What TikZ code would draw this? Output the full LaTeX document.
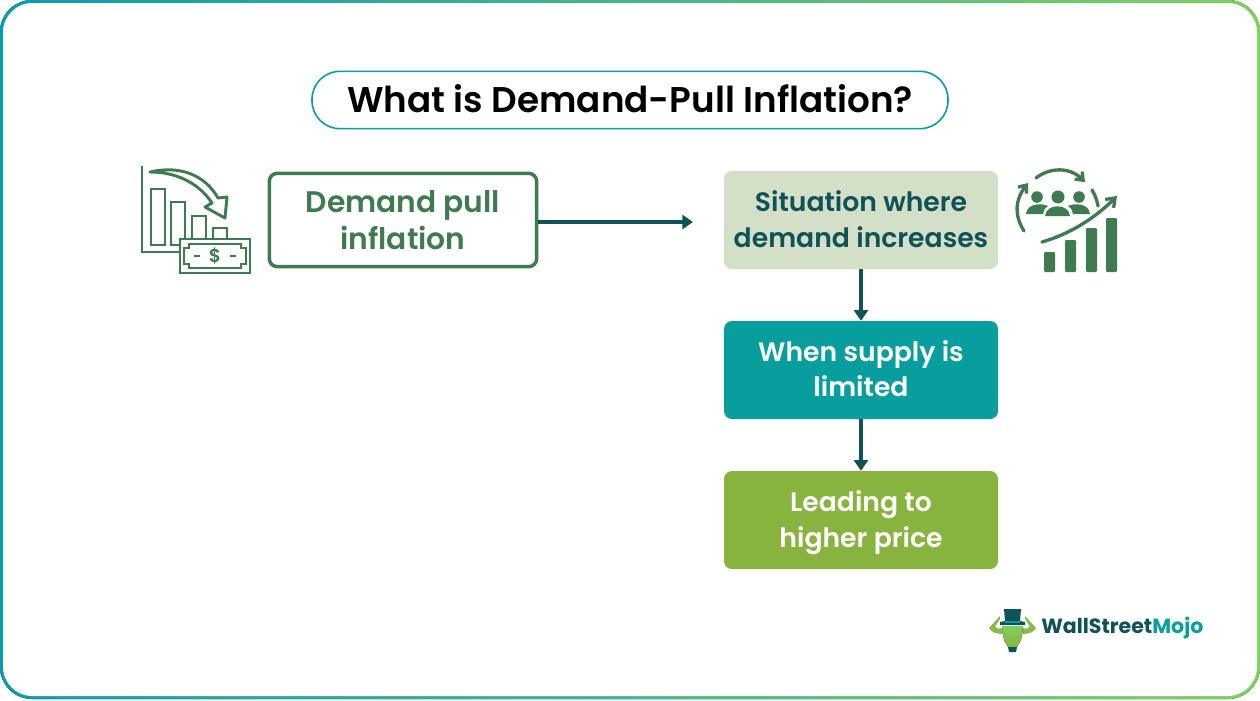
\documentclass[tikz,border=0pt]{standalone}
\usepackage{fontspec}
\setmainfont{Poppins}[BoldFont={Poppins SemiBold}]
\newfontfamily\logofont{Poppins}[BoldFont={Poppins Bold}]
\usetikzlibrary{
    arrows.meta,
    positioning
}
\definecolor{darkteal}{HTML}{0F5257}
\definecolor{iconGreen}{HTML}{3F7A50}
\definecolor{paleGreen}{HTML}{D3DFC6}
\definecolor{midTeal}{HTML}{089E9E}
\definecolor{leafGreen}{HTML}{88B33F}
\definecolor{frameTeal}{HTML}{0A9BB0}
\definecolor{frameGreen}{HTML}{7FD060}

\begin{document}
\begin{tikzpicture}[
    x=0.75pt, y=-0.75pt,
    flowbox/.style = {rectangle, rounded corners=6pt, inner sep=0pt,
                      minimum width=205.5pt, minimum height=73.5pt,
                      align=center, font=\fontsize{20}{27}\selectfont\bfseries},
    flowarrow/.style = {draw=darkteal, line width=2.3pt, -{Triangle[length=8pt,width=10.5pt]}},
    outline/.style = {draw=iconGreen, line width=2.2pt, fill=white, line join=miter},
    solidicon/.style = {fill=iconGreen, rounded corners=0.8pt},
    iconline/.style = {draw=iconGreen, line width=2.5pt, line cap=round}
]
    \useasboundingbox (0,0) rectangle (1260,700);

    % frame
    \fill[left color=frameTeal, right color=frameGreen, rounded corners=24pt] (0,0) rectangle (1260,699);
    \fill[white, rounded corners=22pt] (3,3) rectangle (1257,696);

    % title
    \node[draw=midTeal, line width=1.2pt, fill=white, rounded corners=21pt, inner sep=0pt,
          minimum width=477pt, minimum height=43pt, text depth=3pt,
          font=\fontsize{26.8}{34}\selectfont\bfseries] (title) at (630,100) {What is Demand-Pull Inflation?};

    % boxes
    \node[flowbox, draw=iconGreen, line width=2.6pt, fill=white, text=iconGreen,
          minimum width=200.5pt, minimum height=70pt,
          font=\fontsize{22.3}{28}\selectfont\bfseries] (demand) at (403,220) {Demand pull\\inflation};
    \node[flowbox, fill=paleGreen, text=darkteal, text depth=1.5pt] (situation) at (861,220) {Situation where\\demand increases};
    \node[flowbox, fill=midTeal, text=white, text depth=2pt,
          font=\fontsize{20}{26.3}\selectfont\bfseries] (supply) [below=38.6pt of situation] {When supply is\\limited};
    \node[flowbox, fill=leafGreen, text=white, text depth=1pt] (price) [below=38.6pt of supply] {Leading to\\higher price};

    \coordinate (demandend) at (693,222);
    \coordinate (demandstart) at (demand.east |- demandend);
    \draw[flowarrow] (demandstart) -- (demandend);
    \draw[flowarrow] (situation.south) -- (supply.north);
    \draw[flowarrow] (supply.south) -- (price.north);

    % falling chart icon
    \draw[outline, fill=none] (142,166) -- (142,252) -- (180,252);
    \draw[outline] (151,189) rectangle (165,245);
    \draw[outline] (171,202) rectangle (185,245);
    \draw[outline] (192,216) rectangle (206,240);
    \draw[outline] (213,228) rectangle (227,240);
    \draw[outline, line join=round] (150,172) .. controls (180,165) and (205,175) .. (218,198)
        -- (227,197) -- (225,218) -- (205,207) -- (212,203) .. controls (198,182) and (175,172) .. cycle;
    \draw[outline] (180,239) rectangle (250,273);
    \draw[outline] (189,244) -- (241,244) -- (241,248) -- (246,248) -- (246,264) -- (241,264)
        -- (241,268) -- (189,268) -- (189,264) -- (184,264) -- (184,248) -- (189,248) -- cycle;
    \node[text=iconGreen, inner sep=0pt, font=\fontsize{14}{14}\selectfont\bfseries] (dollar) at (215,256) {\$};
    \draw[iconline, line width=1.8pt, line cap=butt] (194,256) -- (200,256);
    \draw[iconline, line width=1.8pt, line cap=butt] (230,256) -- (236,256);

    % rising chart icon
    \fill[solidicon] (1044,252) rectangle (1055,272);
    \fill[solidicon] (1065,240) rectangle (1076,272);
    \fill[solidicon] (1086,228) rectangle (1097,272);
    \fill[solidicon] (1106,218) rectangle (1117,272);
    \draw[iconline, -{Straight Barb[length=6pt,width=9pt]}] (1042,242) .. controls (1070,234) and (1095,218) .. (1117,196);
    \fill[iconGreen] (1037,197) circle (5.8) (1058,197) circle (6.5) (1079,197) circle (5.8);
    \fill[iconGreen] (1045,216) .. controls (1046,203) and (1069,203) .. (1070,216) -- cycle;
    \fill[iconGreen] (1026,214) .. controls (1027,203) and (1042,203) .. (1048,206) .. controls (1045,208) and (1043,211) .. (1043,214) -- cycle;
    \fill[iconGreen] (1090,214) .. controls (1089,203) and (1074,203) .. (1068,206) .. controls (1071,208) and (1073,211) .. (1073,214) -- cycle;
    \draw[iconline, -{Straight Barb[length=5pt,width=8pt]}] (1024,231) .. controls (1014,215) and (1015,200) .. (1028,183);
    \draw[iconline, -{Straight Barb[length=5pt,width=8pt]}] (1036,178) .. controls (1050,167) and (1070,167) .. (1085,182);
    \draw[iconline] (1092,190) .. controls (1095,195) and (1097,200) .. (1098,206);

    % logo
    \fill[leafGreen!70!frameGreen] (1003,634) .. controls (996,634) and (991,632) .. (989,628)
        -- (1000,616) .. controls (1001,620) and (996,624) .. (995,627) .. controls (997,629) and (1000,629) .. (1003,628) -- cycle;
    \fill[leafGreen!70!frameGreen] (1022,634) .. controls (1029,634) and (1034,632) .. (1036,628)
        -- (1025,616) .. controls (1024,620) and (1029,624) .. (1030,627) .. controls (1028,629) and (1025,629) .. (1022,628) -- cycle;
    \fill[top color=frameGreen, bottom color=leafGreen] (1002,626) -- (1023,626) -- (1021,640) -- (1017,647) -- (1008,647) -- (1004,640) -- cycle;
    \fill[darkteal] (1008,647) -- (1017,647) -- (1016,652) -- (1009,652) -- cycle;
    \fill[darkteal] (1004,609) -- (1021,609) -- (1020,621) -- (1025,622) -- (1025,625) -- (1000,625) -- (1000,622) -- (1005,621) -- cycle;
    \fill[midTeal] (1005,621) rectangle (1020,623);
    \node[anchor=west, inner sep=0pt, text=darkteal, font=\logofont\fontsize{15.4}{18}\selectfont\bfseries] (logo) at (1041,628) {WallStreet\textcolor{midTeal}{Mojo}};

\end{tikzpicture}
\end{document}
